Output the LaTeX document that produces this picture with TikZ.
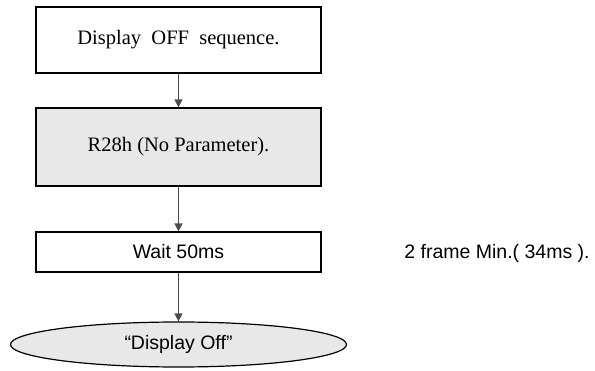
\documentclass[tikz,border=0pt]{standalone}
\usepackage{fontspec}
\setmainfont{Liberation Serif}
\newfontfamily\arialfont{Liberation Sans}
\usetikzlibrary{shapes.geometric}
\usetikzlibrary{arrows.meta}
\tikzset{stepbox/.style = {draw, line width=1.2pt, minimum width=285pt,
                           inner sep=0pt, font=\fontsize{20.5}{23}\selectfont},
         endcap/.style = {draw, ellipse, line width=1.2pt, fill=gray!18,
                          minimum width=336pt, minimum height=45pt, inner sep=0pt,
                          font=\arialfont\fontsize{19.5}{22}\selectfont},
         flow/.style = {-{Triangle[length=8pt,width=8pt]}, line width=1.3pt,
                        draw=black!70}}

\begin{document}
\begin{tikzpicture}[x=1pt, y=-1pt]
    \useasboundingbox (0, 0) rectangle (595, 371);
    \node [stepbox, minimum height=66pt] (off) at (178.5, 40) {Display\ \ OFF\ \ sequence.};
    \node [stepbox, minimum height=78pt, fill=gray!18] (cmd) at (178.5, 147) {R28h (No Parameter).};
    \node [stepbox, minimum height=40pt, font=\arialfont\fontsize{19.5}{22}\selectfont] (wait) at (178.5, 252) {Wait 50ms};
    \node [endcap] (done) at (178.5, 344.5) {“Display Off”};
    \node [font=\arialfont\fontsize{19.5}{22}\selectfont] (note) at (497, 253) {2 frame Min.( 34ms ).};
    \draw [flow] (off) -- (cmd);
    \draw [flow] (cmd) -- (wait);
    \draw [flow] (wait) -- (done);
  \end{tikzpicture}
\end{document}
